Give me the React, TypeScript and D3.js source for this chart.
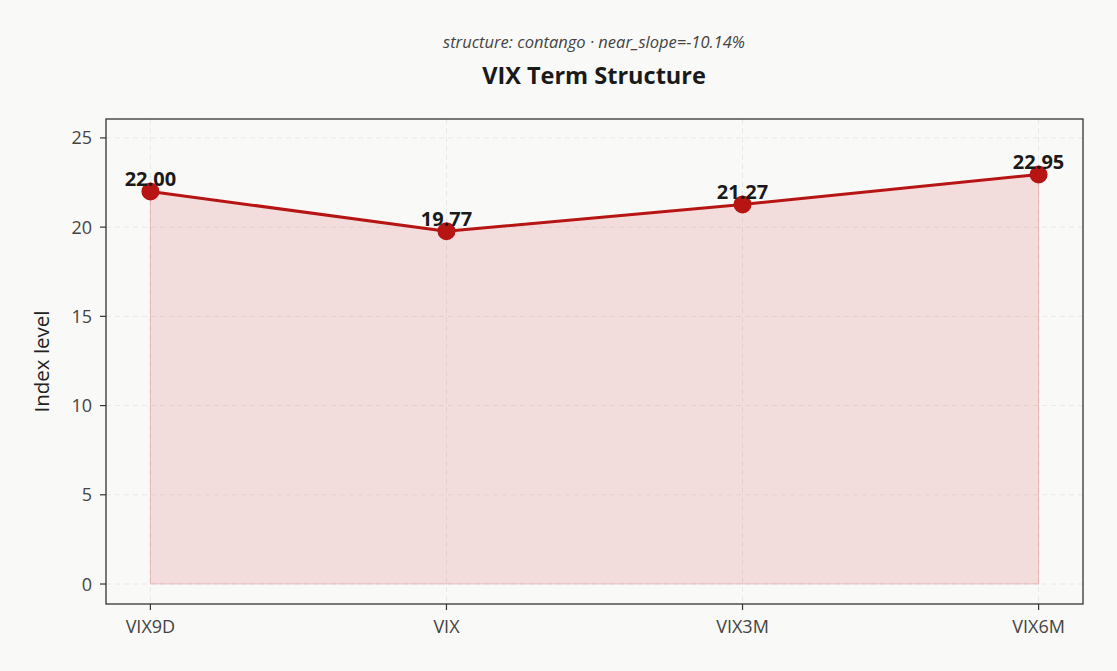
import React from "react";
import * as d3 from "d3";

const categories = ["VIX9D", "VIX", "VIX3M", "VIX6M"];
const values = [22.0, 19.77, 21.27, 22.95];
const yTicks = [0, 5, 10, 15, 20, 25];
const title = "VIX Term Structure";
const subtitle = "structure: contango · near_slope=-10.14%";
const yLabel = "Index level";

const W = 1117, H = 671;
const left = 106, right = 1083, top = 119, bottom = 604;
const FONT = "'Open Sans', 'Noto Sans', sans-serif";
const RED = "#b71414";

export default function App() {
  const x = d3.scaleLinear().domain([-0.15, categories.length - 1 + 0.15]).range([left, right]);
  const y = d3.scaleLinear().domain([-1.12, 26.06]).range([bottom, top]);
  const pts = values.map((v, i) => [x(i), y(v)] as [number, number]);
  const line = d3.line()(pts) || "";
  const area = d3.area<number>().x((_, i) => x(i)).y0(y(0)).y1((v) => y(v))(values) || "";
  return (
    <svg width={W} height={H} style={{ position: "absolute", left: 0, top: 0, background: "#f9f9f7" }}>
      <rect x={0} y={0} width={W} height={H} fill="#f9f9f7" />
      <text x={594} y={48} textAnchor="middle" fontFamily={FONT} fontStyle="italic" fontSize={16.5} fill="#444">{subtitle}</text>
      <text x={594} y={84} textAnchor="middle" fontFamily={FONT} fontWeight="bold" fontSize={23.5} fill="#1a1a1a">{title}</text>
      {yTicks.map((t) => (
        <line key={"gy" + t} x1={left} x2={right} y1={y(t)} y2={y(t)} stroke="#e8e8e8" strokeWidth={1} strokeDasharray="5,4" />
      ))}
      {categories.map((c, i) => (
        <line key={"gx" + c} x1={x(i)} x2={x(i)} y1={top} y2={bottom} stroke="#e8e8e8" strokeWidth={1} strokeDasharray="5,4" />
      ))}
      <path d={area} fill="rgba(200,40,40,0.13)" stroke="rgba(200,40,40,0.2)" strokeWidth={1.2} />
      <path d={line} fill="none" stroke={RED} strokeWidth={3} strokeLinejoin="round" />
      {pts.map((p, i) => (
        <circle key={"c" + i} cx={p[0]} cy={p[1]} r={9} fill={RED} />
      ))}
      {pts.map((p, i) => (
        <text key={"l" + i} x={p[0]} y={p[1] - 5} textAnchor="middle" fontFamily={FONT} fontWeight="bold" fontSize={20} fill="#1a1a1a">{values[i].toFixed(2)}</text>
      ))}
      <rect x={left} y={top} width={right - left} height={bottom - top} fill="none" stroke="#333" strokeWidth={1.3} />
      {yTicks.map((t) => (
        <g key={"ty" + t}>
          <line x1={left - 6} x2={left} y1={y(t)} y2={y(t)} stroke="#333" strokeWidth={1.2} />
          <text x={left - 14} y={y(t) + 6.5} textAnchor="end" fontFamily={FONT} fontSize={18} fill="#444">{t}</text>
        </g>
      ))}
      {categories.map((c, i) => (
        <g key={"tx" + c}>
          <line x1={x(i)} x2={x(i)} y1={bottom} y2={bottom + 6} stroke="#333" strokeWidth={1.2} />
          <text x={x(i)} y={bottom + 29} textAnchor="middle" fontFamily={FONT} fontSize={18} fill="#444">{c}</text>
        </g>
      ))}
      <text transform={`translate(49,${(top + bottom) / 2}) rotate(-90)`} textAnchor="middle" fontFamily={FONT} fontSize={20.5} fill="#222">{yLabel}</text>
    </svg>
  );
}
